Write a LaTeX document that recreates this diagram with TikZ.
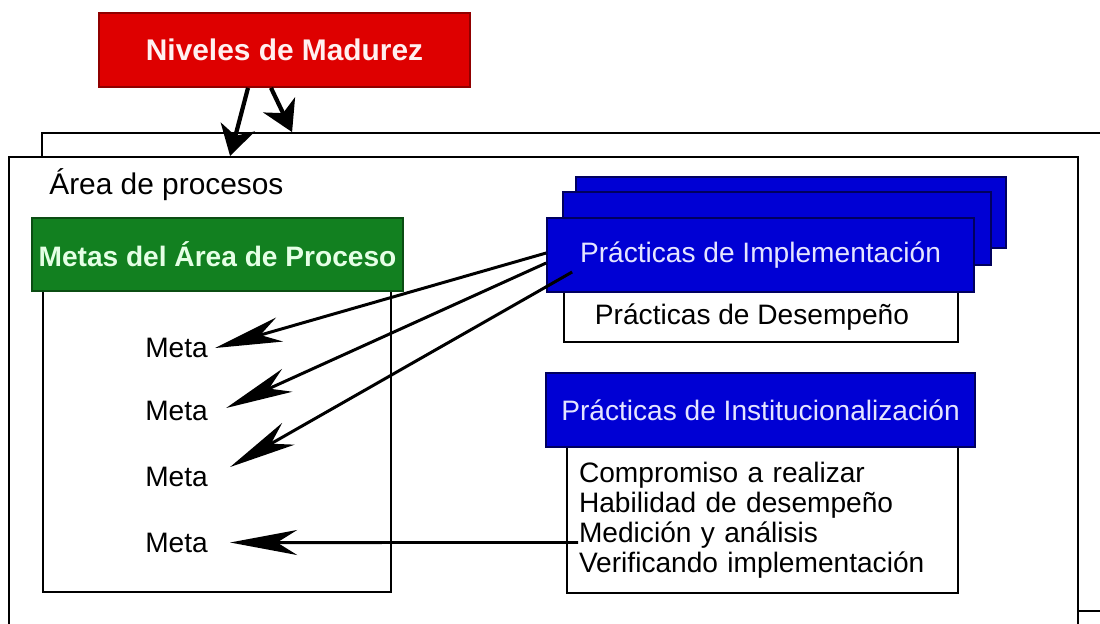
\documentclass[tikz,border=0pt]{standalone}
\usepackage{fontspec}
\setmainfont{Liberation Sans}
\usetikzlibrary{shapes}
\usetikzlibrary{arrows.meta}
\definecolor{rojo}{RGB}{222,0,0}
\definecolor{verde}{RGB}{18,128,32}
\definecolor{azul}{RGB}{0,0,212}

\begin{document}
\begin{tikzpicture}[x=0.02cm,y=-0.02cm]
	\tikzstyle{marco}=[rectangle,draw,line width=1.1pt,fill=white,inner sep=0pt]
	\tikzstyle{titulo}=[rectangle,draw,line width=1pt,inner sep=0pt,font=\fontsize{16}{18}\selectfont\bfseries]
	\tikzstyle{practica}=[rectangle,draw=azul!45!black,fill=azul,line width=1pt,inner sep=0pt,text=blue!10!white,font=\fontsize{16}{18}\selectfont]
	\tikzstyle{lista}=[rectangle,draw,line width=1pt,fill=white,inner sep=0pt,font=\fontsize{16}{17}\selectfont]
	\tikzstyle{meta}=[font=\fontsize{16}{18}\selectfont,inner sep=4pt]
	\tikzstyle{flecha}=[line width=1.7pt,-{Stealth[length=1.34cm,width=0.5cm,inset=0.4cm]}]
	\tikzstyle{flechagruesa}=[line width=2.4pt,-{Stealth[length=0.6cm,width=0.7cm,inset=0.18cm]}]
	\useasboundingbox (0,0) rectangle (1100,623);

	\node[marco,minimum width=21.6cm,minimum height=9.56cm] (fondo) at (582,372) {};
	\node[marco,minimum width=21.38cm,minimum height=9.8cm] (frente) at (543.5,402) {};

	\node[titulo,fill=rojo,draw=rojo!65!black,text=red!6!white,minimum width=7.42cm,minimum height=1.48cm,font=\fontsize{17}{19}\selectfont\bfseries] (niveles) at (284.5,50) {Niveles de Madurez};
	\draw[flechagruesa] ([xshift=-0.73cm]niveles.south) -- ([xshift=4.44cm]frente.north west);
	\draw[flechagruesa] ([xshift=-0.27cm]niveles.south) -- ([xshift=5.02cm]fondo.north west);

	\node[anchor=west,inner sep=0pt,font=\fontsize{17}{19}\selectfont] (area) at (49,185) {Área de procesos};

	\node[marco,line width=1pt,minimum width=6.96cm,minimum height=6.02cm] (cajametas) at (217,441.5) {};
	\node[titulo,fill=verde,draw=verde!60!black,text=green!10!white,minimum width=7.42cm,minimum height=1.46cm] (metas) at (217.5,254.5) {Metas del Área de Proceso};
	\node[meta] (meta1) at (176.5,348) {Meta};
	\node[meta] (meta2) at (176.5,411) {Meta};
	\node[meta] (meta3) at (176.5,477) {Meta};
	\node[meta] (meta4) at (176.5,542.5) {Meta};

	\node[practica,minimum width=8.6cm,minimum height=1.42cm] (impl3) at (791,212.5) {};
	\node[practica,minimum width=8.56cm,minimum height=1.46cm] (impl2) at (777,228.5) {};
	\node[lista,minimum width=7.88cm,minimum height=1.0cm] (desempeno) at (761,317) {\hspace*{-0.36cm}Prácticas de Desempeño};
	\node[practica,minimum width=8.54cm,minimum height=1.48cm] (impl) at (760.5,255) {Prácticas de Implementación};

	\node[lista,minimum width=7.82cm,minimum height=2.92cm,inner xsep=0.24cm,text width=7.34cm,align=left] (institucion) at (762.5,520) {Compromiso a realizar\\Habilidad de desempeño\\Medición y análisis\\Verificando implementación\\[-0.16cm]};
	\node[practica,minimum width=8.58cm,minimum height=1.48cm] (inst) at (760.5,410) {Prácticas de Institucionalización};

	\draw[flecha] ([yshift=0.04cm]impl.west) -- (meta1.east);
	\draw[flecha] ([yshift=-0.16cm]impl.west) -- ([xshift=0.22cm,yshift=0.06cm]meta2.east);
	\draw[flecha] ([xshift=0.52cm,yshift=-0.34cm]impl.west) -- ([xshift=0.3cm,yshift=0.2cm]meta3.east);
	\draw[flecha] ([xshift=0.24cm,yshift=-0.45cm]institucion.west) -- ([xshift=0.3cm]meta4.east);
\end{tikzpicture}
\end{document}
